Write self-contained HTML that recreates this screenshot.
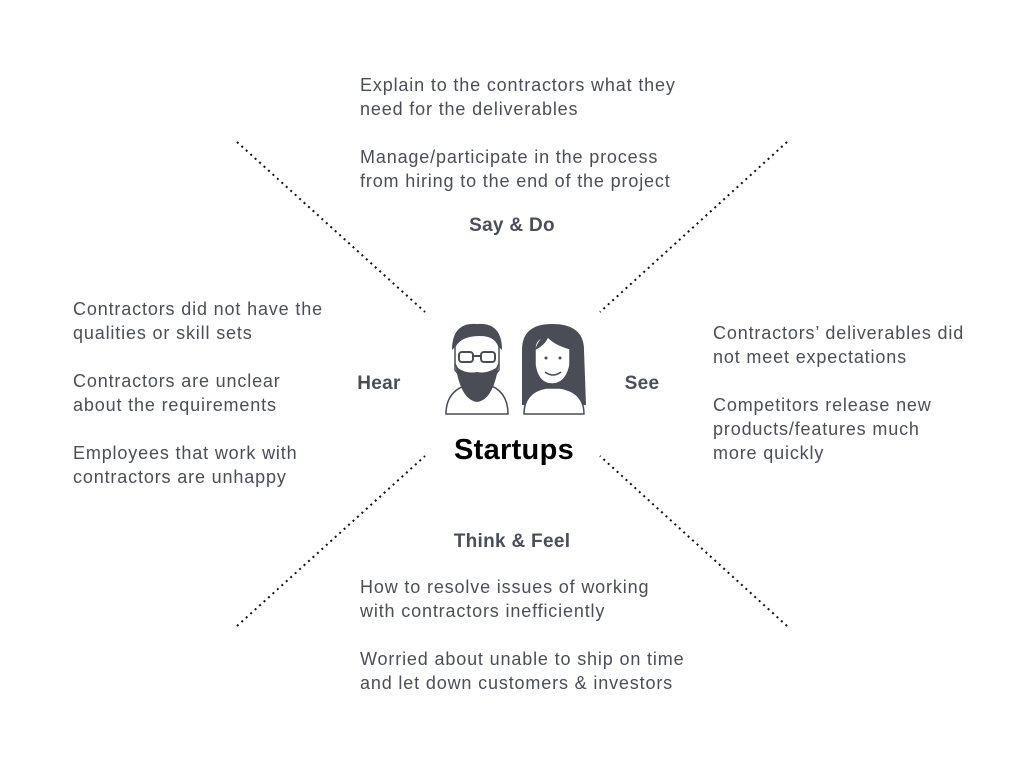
<!DOCTYPE html>
<html><head><style>
body{margin:0;width:1024px;height:768px;background:#fff;position:relative;font-family:"Liberation Sans",sans-serif;color:#4b4e56;overflow:hidden}
.t{position:absolute;font-size:18px;line-height:24px;white-space:nowrap;letter-spacing:0.85px}
.h{position:absolute;font-size:19px;font-weight:bold;line-height:24px;white-space:nowrap;transform:translateX(-50%);letter-spacing:0.3px}
</style></head><body>
<svg width="1024" height="768" style="position:absolute;left:0;top:0">
<g stroke="#111" stroke-width="2" stroke-dasharray="2,4">
<line x1="237" y1="142" x2="425" y2="312"/>
<line x1="787" y1="142" x2="600" y2="312"/>
<line x1="237" y1="626" x2="425" y2="456"/>
<line x1="787" y1="626" x2="600" y2="456"/>
</g>
<g stroke="#4a4d55" stroke-width="1.5" fill="#fff">
<path d="M446 414 Q446 390 470 384 L486 384 Q508 390 508 414 Z"/>
<path d="M455 345 Q455 328 477 327 Q499 328 499 345 L499 370 Q477 400 455 370 Z"/>
</g>
<path d="M452 350 Q452 322 477 324 Q502 322 502 350 L498 346 Q494 336 480 336 Q462 336 456 346 Z" fill="#4a4d55"/>
<path d="M455 362 Q460 400 477 402 Q494 400 499 362 L496 368 Q486 374 477 372 Q466 374 458 368 Z" fill="#4a4d55"/>
<g stroke="#4a4d55" stroke-width="2" fill="none">
<rect x="459" y="352" width="14" height="10" rx="3"/><rect x="481" y="352" width="14" height="10" rx="3"/>
<line x1="473" y1="356" x2="481" y2="356"/>
</g>
<path d="M522 405 L522 350 Q522 324 552 324 Q584 324 584 350 L586 405 Z" fill="#4a4d55"/>
<g stroke="#4a4d55" stroke-width="1.5" fill="#fff">
<path d="M524 414 Q524 392 546 388 L560 388 Q584 392 584 414 Z"/>
<path d="M535 348 Q535 336 552 336 Q570 336 570 348 L570 365 Q566 384 552 384 Q538 384 535 365 Z"/>
</g>
<path d="M535 350 Q540 334 552 334 Q568 334 572 350 Q556 346 548 338 Q544 346 535 350 Z" fill="#4a4d55"/>
<circle cx="546" cy="358" r="1.5" fill="#4a4d55"/><circle cx="560" cy="358" r="1.5" fill="#4a4d55"/>
<path d="M545 372 Q553 378 561 372" stroke="#4a4d55" stroke-width="1.5" fill="none"/>
</svg>
<div class="t" style="left:360px;top:73px">Explain to the contractors what they<br>need for the deliverables</div>
<div class="t" style="left:360px;top:145px">Manage/participate in the process<br>from hiring to the end of the project</div>
<div class="h" style="left:512px;top:214px">Say &amp; Do</div>
<div class="t" style="left:73px;top:297px">Contractors did not have the<br>qualities or skill sets</div>
<div class="t" style="left:73px;top:369px">Contractors are unclear<br>about the requirements</div>
<div class="t" style="left:73px;top:441px">Employees that work with<br>contractors are unhappy</div>
<div class="h" style="left:379px;top:372px">Hear</div>
<div class="h" style="left:642px;top:372px">See</div>
<div class="t" style="left:713px;top:321px">Contractors’ deliverables did<br>not meet expectations</div>
<div class="t" style="left:713px;top:393px">Competitors release new<br>products/features much<br>more quickly</div>
<div class="h" style="left:514px;top:432px;font-size:29px;line-height:36px;color:#000">Startups</div>
<div class="h" style="left:512px;top:530px">Think &amp; Feel</div>
<div class="t" style="left:360px;top:575px">How to resolve issues of working<br>with contractors inefficiently</div>
<div class="t" style="left:360px;top:647px">Worried about unable to ship on time<br>and let down customers &amp; investors</div>
</body></html>
